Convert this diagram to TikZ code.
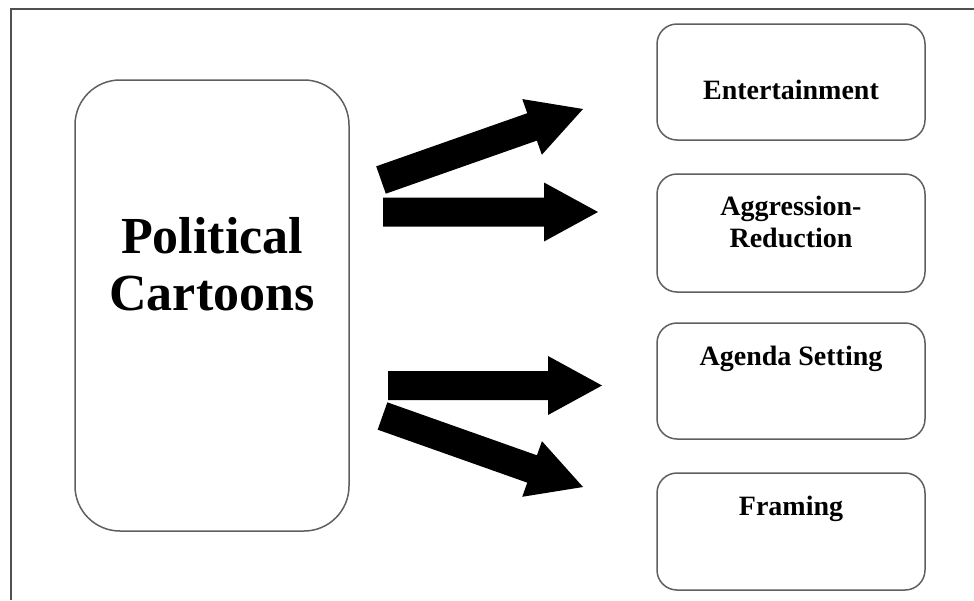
\documentclass[tikz,border=0pt]{standalone}
\usepackage{fontspec}
\setmainfont{Liberation Serif}
\usetikzlibrary{calc}
\definecolor{boxgray}{RGB}{95,95,95}
\definecolor{framegray}{RGB}{80,80,80}
\newcommand{\BlockArrow}[2]{%
  \coordinate (#1B) at ($(#2)!54pt!(#1)$);
  \fill[blockarrow] ($(#1)!14.5pt!90:(#2)$) -- ($(#1B)!14.5pt!90:(#2)$) -- ($(#1B)!29.5pt!90:(#2)$) -- (#2)
     -- ($(#1B)!29.5pt!-90:(#2)$) -- ($(#1B)!14.5pt!-90:(#2)$) -- ($(#1)!14.5pt!-90:(#2)$) -- cycle;}
\begin{document}
\begin{tikzpicture}[x=1pt,y=-1pt,
  box/.style={draw=boxgray, line width=1.5pt, rounded corners=20pt, inner sep=0pt, minimum width=268pt},
  lbl/.style={font=\bfseries\fontsize{28}{32}\selectfont, anchor=base, inner sep=0pt},
  biglbl/.style={font=\bfseries\fontsize{52}{57}\selectfont, anchor=base, inner sep=0pt},
  blockarrow/.style={fill=black},
  frame/.style={draw=framegray, line width=2pt}]
\useasboundingbox (0,0) rectangle (974,600);
\fill[white] (0,0) rectangle (974,600);
\draw[frame] (11,600) -- (11,9) -- (974,9);
% main box
\node[box, rounded corners=45pt, minimum width=274pt, minimum height=451pt] (pc) at (212,305.5) {};
\node[biglbl] (pc1) at (212,253) {Political};
\node[biglbl] (pc2) at (212,310) {Cartoons};
% right boxes
\node[box, minimum height=116pt] (ent) at (791,82) {};
\node[box, minimum height=118pt] (agg) at (791,233) {};
\node[box, minimum height=116pt] (age) at (791,381) {};
\node[box, minimum height=117pt] (fra) at (791,531.5) {};
\node[lbl] (entl) at (791,99) {Entertainment};
\node[lbl] (aggl1) at (791,215) {Aggression-};
\node[lbl] (aggl2) at (791,247) {Reduction};
\node[lbl] (agel) at (791,365) {Agenda Setting};
\node[lbl] (fral) at (791,515) {Framing};
% arrows
\coordinate (a1s) at (381,180);   \coordinate (a1t) at (583,109);
\coordinate (a2s) at (383,212);   \coordinate (a2t) at (598,212);
\coordinate (a3s) at (388,385.5); \coordinate (a3t) at (602,385.5);
\coordinate (a4s) at (382.5,416); \coordinate (a4t) at (583,487);
\BlockArrow{a1s}{a1t}
\BlockArrow{a2s}{a2t}
\BlockArrow{a3s}{a3t}
\BlockArrow{a4s}{a4t}
\end{tikzpicture}
\end{document}
